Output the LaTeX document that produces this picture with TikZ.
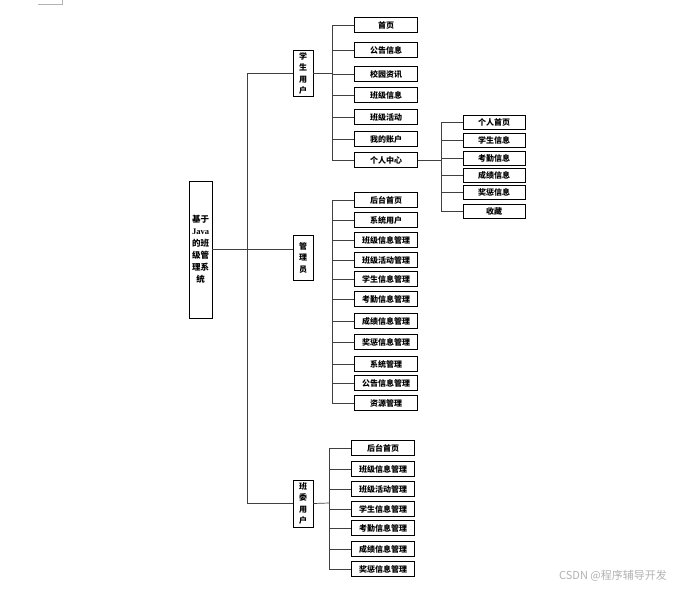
\documentclass[tikz,border=0pt]{standalone}
\usepackage{fontspec}
\setmainfont{Noto Sans CJK SC}
\newfontfamily\serifjava{Liberation Serif}
\usetikzlibrary{positioning}

\begin{document}
\begin{tikzpicture}[x=1pt, y=-1pt,
    box/.style={draw, line width=0.9pt, inner sep=0pt, font=\fontsize{8}{9}\selectfont\bfseries},
    leaf/.style={box, minimum width=63pt, minimum height=15pt},
    subleaf/.style={box, minimum width=62pt, minimum height=14pt},
    role/.style={box, minimum width=20pt, minimum height=46pt, align=center,
        font=\fontsize{8}{11.5}\selectfont\bfseries},
    link/.style={draw=black!75, line width=0.7pt}]
    \useasboundingbox (0,0) rectangle (681,590);

    % 页面角标
    \draw[black!30, line width=0.6pt] (38,4) -- (62,4) -- (62,0);

    % 根节点
    \node[box, minimum width=23pt, minimum height=137pt, align=center,
        font=\fontsize{8.5}{12}\selectfont\bfseries] (root) at (200.5,249.5)
        {基于\\{\serifjava Java}\\的班\\级管\\理系\\统};

    % 三类用户
    \node[role] (stu) at (303,73.5) {学\\生\\用\\户};
    \node[role, minimum height=45pt] (adm) at (303,257.5) {管\\理\\员};
    \node[role, minimum height=47pt] (cls) at (303,503.5) {班\\委\\用\\户};

    % 主干
    \coordinate (tr) at (247,250);
    \draw[link] (root.east) -- (root.east -| adm.west);
    \draw[link] (tr |- stu.west) -- (tr |- cls.west);
    \draw[link] (tr |- stu.west) -- (stu.west);
    \draw[link] (tr |- cls.west) -- (cls.west);

    % 学生用户
    \foreach \n/\t/\y in {1/首页/25, 2/公告信息/50, 3/校园资讯/74, 4/班级信息/95,
        5/班级活动/117, 6/我的账户/139, 7/个人中心/160}
        \node[leaf] (s\n) at (386,\y) {\t};
    \coordinate (sb) at (332,73.5);
    \draw[link] (stu.east) -- (sb);
    \draw[link] (sb |- s1.west) -- (sb |- s7.west);
    \foreach \n in {1,...,7}
        \draw[link] (sb |- s\n.west) -- (s\n.west);

    % 个人中心
    \foreach \n/\t/\y in {1/个人首页/122, 2/学生信息/140, 3/考勤信息/158,
        4/成绩信息/175, 5/奖惩信息/192, 6/收藏/211}
        \node[subleaf] (p\n) at (494,\y) {\t};
    \coordinate (pb) at (441,160);
    \draw[link] (s7.east) -- (pb);
    \draw[link] (pb |- p1.west) -- (pb |- p6.west);
    \foreach \n in {1,...,6}
        \draw[link] (pb |- p\n.west) -- (p\n.west);

    % 管理员
    \foreach \n/\t/\y in {1/后台首页/200, 2/系统用户/220, 3/班级信息管理/240,
        4/班级活动管理/260, 5/学生信息管理/279, 6/考勤信息管理/299,
        7/成绩信息管理/321, 8/奖惩信息管理/342, 9/系统管理/364,
        10/公告信息管理/383, 11/资源管理/403}
        \node[leaf] (a\n) at (386,\y) {\t};
    \coordinate (ab) at (332,250);
    \draw[link] (ab |- a1.west) -- (ab |- a11.west);
    \foreach \n in {1,...,11}
        \draw[link] (ab |- a\n.west) -- (a\n.west);

    % 班委用户
    \foreach \n/\t/\y in {1/后台首页/448, 2/班级信息管理/469, 3/班级活动管理/489,
        4/学生信息管理/509, 5/考勤信息管理/528, 6/成绩信息管理/549,
        7/奖惩信息管理/569}
        \node[leaf] (c\n) at (383,\y) {\t};
    \coordinate (cb) at (329,503);
    \draw[link] (cls.east) -- (cb);
    \draw[link] (cb |- c1.west) -- (cb |- c7.west);
    \foreach \n in {1,...,7}
        \draw[link] (cb |- c\n.west) -- (c\n.west);

    % 水印
    \node[text=black!30, font=\fontsize{11}{13}\selectfont] (mark) at (613,576)
        {CSDN @程序辅导开发};
\end{tikzpicture}
\end{document}
